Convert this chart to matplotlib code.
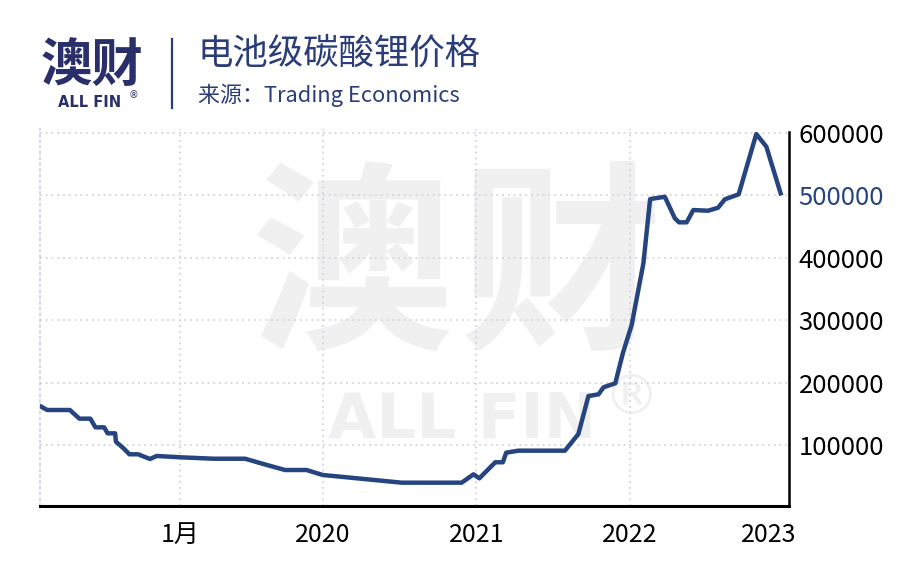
import pandas as pd
import numpy as np
import matplotlib
matplotlib.use("Agg")
import matplotlib.pyplot as plt
import matplotlib.dates as mdates

plt.rcParams['font.family'] = ['Noto Sans CJK SC', 'DejaVu Sans']

# data (CNY / tonne)
dates = pd.to_datetime([
    '2018-03-01', '2018-03-15', '2018-05-08', '2018-05-31', '2018-06-26',
    '2018-07-08', '2018-07-29', '2018-08-06', '2018-08-24', '2018-08-26',
    '2018-09-13', '2018-09-27', '2018-10-18', '2018-11-15', '2018-12-01',
    '2019-01-26', '2019-04-16', '2019-06-30', '2019-08-12', '2019-10-03',
    '2019-11-23', '2020-01-01', '2020-01-26', '2020-04-16', '2020-07-07',
    '2020-11-27', '2020-12-25', '2021-01-08', '2021-02-15', '2021-03-05',
    '2021-03-13', '2021-04-11', '2021-07-31', '2021-09-01', '2021-09-25',
    '2021-10-19', '2021-10-31', '2021-11-28', '2021-12-16', '2022-01-06',
    '2022-02-03', '2022-02-19', '2022-03-26', '2022-04-19', '2022-04-29',
    '2022-05-17', '2022-06-02', '2022-07-07', '2022-07-31', '2022-08-16',
    '2022-09-18', '2022-10-30', '2022-11-23', '2022-12-27',
])
prices = [
    161400, 156100, 156100, 142200, 142200,
    128300, 128300, 118700, 118700, 105300,
    94700, 85100, 85100, 77600, 82400,
    80300, 78000, 78000, 69600, 59900,
    59900, 51900, 50300, 45000, 39600,
    39600, 53000, 46600, 72300, 72300,
    87700, 90900, 90900, 117600, 178500,
    181200, 192500, 198900, 247000, 292300,
    391200, 494200, 497900, 463300, 456900,
    456900, 476600, 475500, 480300, 493800,
    501800, 598400, 578200, 503400,
]

tick_dates = pd.to_datetime(['2019-01-26', '2020-01-01', '2021-01-01', '2022-01-01'])
tick_labels = ['1月', '2020', '2021', '2022']
last_tick_date = pd.to_datetime(['2022-11-29'])
last_tick_label = ['2023']
y_ticks = [100000, 200000, 300000, 400000, 500000, 600000]

navy = '#26447f'
title_color = '#2b3d78'
grid_color = '#d3d3e3'
wm_color = '#eff0ef'

fig = plt.figure(figsize=(9.24, 5.87), dpi=100)
ax = fig.add_axes([0.0433, 0.1385, 0.8106, 0.6412])

ax.plot(dates, prices, color=navy, lw=3.2, solid_joinstyle='round', zorder=3)

ax.set_xlim(pd.Timestamp('2018-02-26'), pd.Timestamp('2023-01-16'))
ax.set_ylim(2700, 606000)

ax.set_xticks(tick_dates)
ax.set_xticklabels(tick_labels)
ax.set_xticks(last_tick_date, minor=True)
ax.set_xticklabels(last_tick_label, minor=True)
ax.tick_params(axis='x', which='both', length=0, pad=12, labelsize=18, colors='black')

ax.yaxis.tick_right()
ax.set_yticks(y_ticks)
ax.set_yticklabels([str(v) for v in y_ticks])
ax.tick_params(axis='y', length=0, pad=7, labelsize=18.5)
ax.get_yticklabels()[4].set_color(navy)

ax.grid(True, which='major', color=grid_color, linestyle=(0, (1, 2.2)), lw=1.3)
ax.set_axisbelow(True)

ax.spines['top'].set_visible(False)
ax.spines['left'].set_color(grid_color)
ax.spines['left'].set_linestyle((0, (1, 2.2)))
ax.spines['left'].set_linewidth(1.3)
ax.spines['bottom'].set_linewidth(2.2)
ax.spines['right'].set_linewidth(1.8)
ax.spines['right'].set_bounds(2700, 602000)

# watermark
ax.text(0.381, 0.533, '澳', transform=fig.transFigure, ha='center', va='center',
        fontsize=146, fontweight='bold', color=wm_color, zorder=0.2)
ax.text(0.607, 0.533, '财', transform=fig.transFigure, ha='center', va='center',
        fontsize=146, fontweight='bold', color=wm_color, zorder=0.2)
ax.text(0.5, 0.284, 'ALL FIN', transform=fig.transFigure, ha='center', va='center',
        fontsize=45, fontweight='bold', color=wm_color, zorder=0.2, family='DejaVu Sans')
ax.text(0.683, 0.32, '®', transform=fig.transFigure, ha='center', va='center',
        fontsize=40, color=wm_color, zorder=0.2, family='DejaVu Sans')

# header
fig.text(0.044, 0.889, '澳财', fontsize=37, fontweight='bold', color='#2a2f6b',
         ha='left', va='center')
fig.text(0.063, 0.826, 'ALL FIN', fontsize=10.5, fontweight='bold', color='#2a2f6b',
         ha='left', va='center', family='DejaVu Sans')
fig.text(0.139, 0.838, '®', fontsize=7, color='#2a2f6b', ha='left', va='center',
         family='DejaVu Sans')
fig.add_artist(plt.Line2D([0.186, 0.186], [0.816, 0.934], color=title_color, lw=1.6))
fig.text(0.214, 0.908, '电池级碳酸锂价格', fontsize=25.5, color=title_color,
         ha='left', va='center')
fig.text(0.214, 0.838, '来源：Trading Economics', fontsize=15.8, color=title_color,
         ha='left', va='center')

fig.savefig('out.png', dpi=100)
